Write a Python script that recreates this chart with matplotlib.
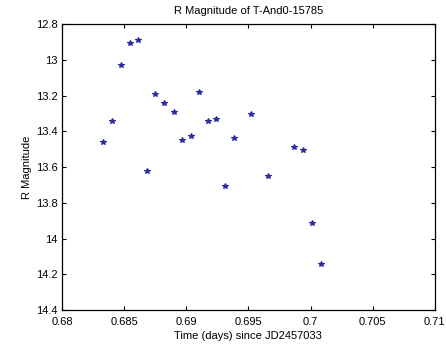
import matplotlib
matplotlib.use("Agg")
import matplotlib.pyplot as plt

plt.rcParams['font.family'] = ['Liberation Sans', 'DejaVu Sans']

time_days = [0.68330, 0.68400, 0.68472, 0.68544, 0.68613, 0.68683, 0.68752,
             0.68821, 0.68899, 0.68965, 0.69037, 0.69104, 0.69173, 0.69243,
             0.69309, 0.69387, 0.69523, 0.69659, 0.69870, 0.69941, 0.70008,
             0.70080]
r_mag = [13.460, 13.341, 13.026, 12.908, 12.890, 13.619, 13.190,
         13.242, 13.290, 13.447, 13.423, 13.180, 13.341, 13.328,
         13.708, 13.438, 13.303, 13.649, 13.490, 13.503, 13.915,
         14.144]

x_ticks = [0.68, 0.685, 0.69, 0.695, 0.70, 0.705, 0.71]
x_tick_labels = ["0.68", "0.685", "0.69", "0.695", "0.7", "0.705", "0.71"]
y_ticks = [12.8, 13.0, 13.2, 13.4, 13.6, 13.8, 14.0, 14.2, 14.4]
y_tick_labels = ["12.8", "13", "13.2", "13.4", "13.6", "13.8", "14", "14.2", "14.4"]

fig = plt.figure(figsize=(4.46, 3.45), dpi=100)
ax = fig.add_axes([0.139, 0.101, 0.836, 0.829])

ax.plot(time_days, r_mag, linestyle='none', marker='*', markersize=4,
        color='#2a2aa0', markeredgewidth=0.8)

ax.set_xlim(0.68, 0.71)
ax.set_ylim(14.4, 12.8)
ax.set_xticks(x_ticks)
ax.set_xticklabels(x_tick_labels)
ax.set_yticks(y_ticks)
ax.set_yticklabels(y_tick_labels)
ax.tick_params(direction='in', top=True, right=True, length=3, width=0.8,
               labelsize=8)
ax.tick_params(axis='x', pad=5)
ax.tick_params(axis='y', pad=3)
for s in ax.spines.values():
    s.set_linewidth(0.9)

ax.set_title("R Magnitude of T-And0-15785", fontsize=8, pad=7)
ax.set_xlabel("Time (days) since JD2457033", fontsize=8, labelpad=3)
ax.set_ylabel("R Magnitude", fontsize=8, labelpad=3)

fig.savefig("out.png", dpi=100)
